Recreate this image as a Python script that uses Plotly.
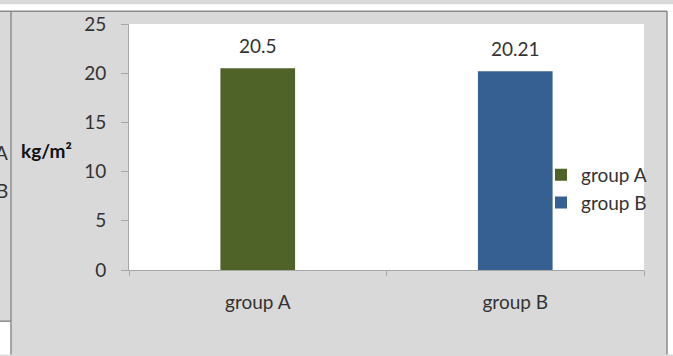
import plotly.graph_objects as go

categories = ["group A", "group B"]
values = [20.5, 20.21]
label_texts = ["20.5", "20.21"]
bar_colors = ["#4F6228", "#376092"]
y_ticks = [0, 5, 10, 15, 20, 25]
y_title = "<b>kg/m²</b>"

W, H = 673, 356
L, R, T, B = 129, 29, 20, 86
PW, PH = W - L - R, H - T - B
FONT = "Lato"
TXT = "#333333"
GRAY_BG = "#D9D9D9"
BORDER = "#8C8C8C"
AXIS = "#A6A6A6"


def fx(x):
    return (x - L) / PW


def fy(y):
    return (H - B - y) / PH


fig = go.Figure()
for cat, val, col in zip(categories, values, bar_colors):
    fig.add_trace(go.Bar(
        x=[cat], y=[val], name=cat, marker=dict(color=col, line=dict(width=0)),
        width=0.29, legendgroup=cat, hoverinfo="skip",
    ))

annotations = []
for cat, val, txt in zip(categories, values, label_texts):
    annotations.append(dict(
        x=cat, y=val, xref="x", yref="y", text=txt, showarrow=False,
        yanchor="bottom", yshift=9, font=dict(family=FONT, size=19, color=TXT),
    ))

annotations.append(dict(x=fx(46), y=fy(149), xref="paper", yref="paper", text=y_title,
                        showarrow=False, xanchor="center", yanchor="middle",
                        font=dict(family=FONT, size=19, color="#111111")))
annotations.append(dict(x=fx(10), y=fy(151), xref="paper", yref="paper", text="A",
                        showarrow=False, xanchor="right", yanchor="middle",
                        font=dict(family=FONT, size=19, color=TXT)))
annotations.append(dict(x=fx(10), y=fy(189), xref="paper", yref="paper", text="B",
                        showarrow=False, xanchor="right", yanchor="middle",
                        font=dict(family=FONT, size=19, color=TXT)))

line = dict(color=BORDER, width=1.5)
shapes = [
    dict(type="rect", xref="paper", yref="paper", x0=fx(0), x1=fx(W), y0=fy(0), y1=fy(7),
         fillcolor="white", line=dict(width=0)),
    dict(type="rect", xref="paper", yref="paper", x0=fx(667), x1=fx(W), y0=fy(7), y1=fy(H),
         fillcolor="white", line=dict(width=0)),
    dict(type="rect", xref="paper", yref="paper", x0=fx(0), x1=fx(11), y0=fy(322), y1=fy(H),
         fillcolor="white", line=dict(width=0)),
    dict(type="line", xref="paper", yref="paper", x0=fx(0), x1=fx(667), y0=fy(7), y1=fy(7), line=line),
    dict(type="line", xref="paper", yref="paper", x0=fx(667), x1=fx(667), y0=fy(7), y1=fy(H), line=line),
    dict(type="line", xref="paper", yref="paper", x0=fx(11), x1=fx(11), y0=fy(7), y1=fy(H), line=line),
    dict(type="line", xref="paper", yref="paper", x0=fx(0), x1=fx(11), y0=fy(322), y1=fy(322), line=line),
]

fig.update_layout(
    width=W, height=H,
    margin=dict(l=L, r=R, t=T, b=B, pad=0),
    paper_bgcolor=GRAY_BG, plot_bgcolor="white",
    barmode="overlay",
    font=dict(family=FONT, size=19, color=TXT),
    showlegend=True,
    legend=dict(x=fx(541), y=fy(154), xanchor="left", yanchor="top",
                bgcolor="rgba(0,0,0,0)", font=dict(family=FONT, size=19, color=TXT),
                tracegroupgap=0, itemwidth=30),
    annotations=annotations,
    shapes=shapes,
    xaxis=dict(showline=True, linecolor=AXIS, linewidth=1, showgrid=False, zeroline=False,
               ticks="outside", tickson="boundaries", ticklen=5, tickcolor=AXIS,
               ticklabelstandoff=15, tickfont=dict(family=FONT, size=19, color=TXT),
               fixedrange=True),
    yaxis=dict(range=[0, 25], tickvals=y_ticks, showline=True, linecolor=AXIS, linewidth=1,
               showgrid=False, zeroline=False, ticks="outside", ticklen=7, tickcolor=AXIS,
               ticklabelstandoff=11, tickfont=dict(family=FONT, size=19, color=TXT),
               fixedrange=True),
)

fig.write_html(
    "out.html",
    config={"displayModeBar": False},
    post_script="document.body.style.margin='0';document.body.style.padding='0';"
                "document.body.style.overflow='hidden';",
)
